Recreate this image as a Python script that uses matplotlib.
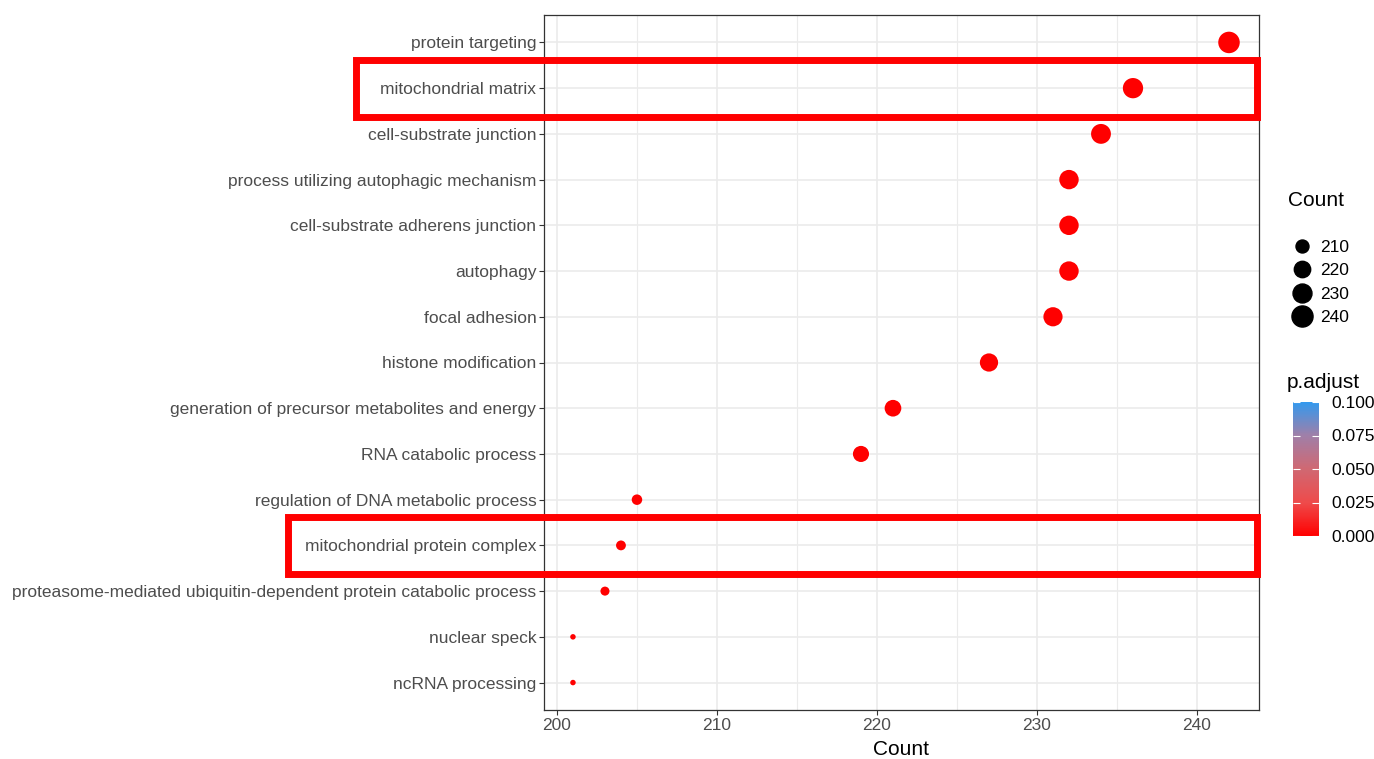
import numpy as np
import matplotlib
matplotlib.use('Agg')
import matplotlib.pyplot as plt
from matplotlib.colors import LinearSegmentedColormap, Normalize
from matplotlib.cm import ScalarMappable
from matplotlib.lines import Line2D
from matplotlib.patches import Rectangle
from matplotlib.transforms import blended_transform_factory

plt.rcParams['font.family'] = ['Liberation Sans', 'DejaVu Sans']

terms = ['protein targeting', 'mitochondrial matrix', 'cell-substrate junction',
         'process utilizing autophagic mechanism', 'cell-substrate adherens junction',
         'autophagy', 'focal adhesion', 'histone modification',
         'generation of precursor metabolites and energy', 'RNA catabolic process',
         'regulation of DNA metabolic process', 'mitochondrial protein complex',
         'proteasome-mediated ubiquitin-dependent protein catabolic process',
         'nuclear speck', 'ncRNA processing']
counts = [242, 236, 234, 232, 232, 232, 231, 227, 221, 219, 205, 204, 203, 201, 201]
padj = [0.0] * 15
highlighted = ['mitochondrial matrix', 'mitochondrial protein complex']
size_breaks = [210, 220, 230, 240]
padj_ticks = [0.0, 0.025, 0.05, 0.075, 0.1]

W, H, DPI = 1374, 759, 100
fig = plt.figure(figsize=(W / DPI, H / DPI), dpi=DPI)
ax = fig.add_axes([544 / W, 1 - 710 / H, (1259 - 544) / W, (710 - 15) / H])

cmap = LinearSegmentedColormap.from_list('padj', ['#FF0000', '#EE4B4B', '#D06872',
                                                  '#A07FA8', '#3399EE'])
norm = Normalize(0, 0.1)

cmin, cmax = min(counts), max(counts)


def diam_pt(v):
    t = (np.asarray(v, float) - cmin) / (cmax - cmin)
    px = 3.2 * (1 + 5 * np.sqrt(np.clip(t, 0, None))) + 2.3
    return px * 72 / DPI


n = len(terms)
ypos = np.arange(n, 0, -1)

ax.set_xlim(199.19, 243.875)
ax.set_ylim(0.4, n + 0.6)
ax.set_xticks([200, 210, 220, 230, 240])
ax.set_xticks([205, 215, 225, 235], minor=True)
ax.set_yticks(ypos)
ax.set_yticklabels(terms)
ax.grid(which='major', color='#EBEBEB', lw=1.2, zorder=0)
ax.grid(which='minor', axis='x', color='#EBEBEB', lw=0.8, zorder=0)
ax.tick_params(which='major', length=3.5, width=0.8, color='#333333',
               labelcolor='#4D4D4D', labelsize=12.5, pad=2)
ax.tick_params(which='minor', length=0)
for s in ax.spines.values():
    s.set_color('#333333')
    s.set_linewidth(0.9)
ax.set_xlabel('Count', fontsize=15, labelpad=5)

ax.scatter(counts, ypos, s=diam_pt(counts) ** 2, c=cmap(norm(padj)),
           edgecolors='none', zorder=3)

# highlight boxes
tr = blended_transform_factory(fig.transFigure, ax.transData)
box_left = {'mitochondrial matrix': 355.5, 'mitochondrial protein complex': 287.5}
for name in highlighted:
    yc = ypos[terms.index(name)]
    x0 = box_left[name] / W
    x1 = 1256.5 / W
    ax.add_patch(Rectangle((x0, yc - 0.62), x1 - x0, 1.24, transform=tr,
                           fill=False, ec='#FF0000', lw=5.0, clip_on=False, zorder=5))

# size legend
fig.text(1288 / W, 1 - 201 / H, 'Count', fontsize=15, ha='left', va='center')
handles = [Line2D([], [], ls='none', marker='o', color='black',
                  markersize=float(diam_pt(b))) for b in size_breaks]
leg = fig.legend(handles, [str(b) for b in size_breaks],
                 loc='upper left', bbox_to_anchor=(1291 / W, 1 - 240 / H),
                 frameon=False, fontsize=12.5,
                 handletextpad=0.35, labelspacing=0.47, handlelength=1.3,
                 borderaxespad=0, borderpad=0)

# colour bar
cax = fig.add_axes([1293 / W, 1 - 536 / H, 26 / W, 134 / H])
cb = fig.colorbar(ScalarMappable(norm=norm, cmap=cmap), cax=cax, ticks=padj_ticks)
cb.outline.set_visible(False)
cb.ax.set_yticklabels(['0.000', '0.025', '0.050', '0.075', '0.100'])
cax.tick_params(length=5, width=0.8, color='white', direction='in',
                labelsize=12.5, labelcolor='black', pad=9, right=True, left=True)
fig.text(1287 / W, 1 - 382 / H, 'p.adjust', fontsize=15, ha='left', va='center')

fig.savefig('out.png', dpi=DPI)
